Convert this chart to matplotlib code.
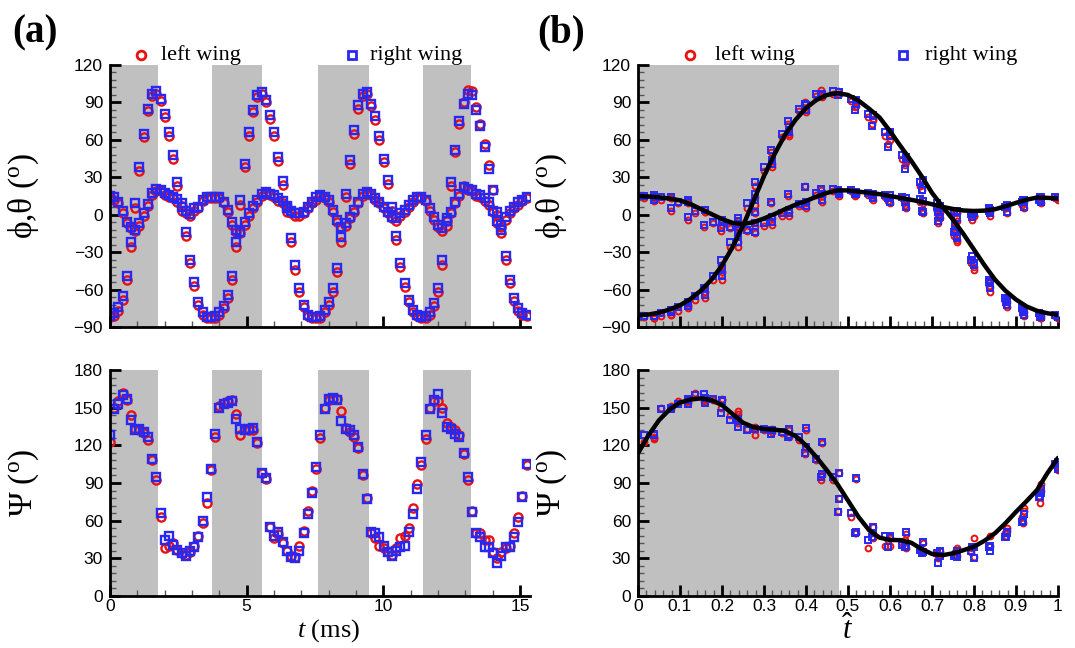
import numpy as np
import matplotlib
matplotlib.use('Agg')
import matplotlib.pyplot as plt
from matplotlib.ticker import MultipleLocator

plt.rcParams['mathtext.fontset'] = 'custom'
plt.rcParams['mathtext.rm'] = 'Liberation Serif'
plt.rcParams['mathtext.it'] = 'Liberation Serif:italic'
plt.rcParams['font.family'] = ['Liberation Sans', 'DejaVu Sans']

# ---------------- data ----------------
t_ms = [0.000, 0.154, 0.308, 0.462, 0.616, 0.770, 0.924, 1.078, 1.232, 1.386,
        1.540, 1.694, 1.848, 2.002, 2.156, 2.310, 2.464, 2.618, 2.772, 2.926,
        3.080, 3.234, 3.388, 3.542, 3.696, 3.850, 4.004, 4.158, 4.312, 4.466,
        4.620, 4.774, 4.928, 5.082, 5.236, 5.390, 5.544, 5.698, 5.852, 6.006,
        6.160, 6.314, 6.468, 6.622, 6.776, 6.930, 7.084, 7.238, 7.392, 7.546,
        7.700, 7.854, 8.008, 8.162, 8.316, 8.470, 8.624, 8.778, 8.932, 9.086,
        9.240, 9.394, 9.548, 9.702, 9.856, 10.010, 10.164, 10.318, 10.472, 10.626,
        10.780, 10.934, 11.088, 11.242, 11.396, 11.550, 11.704, 11.858, 12.012, 12.166,
        12.320, 12.474, 12.628, 12.782, 12.936, 13.090, 13.244, 13.398, 13.552, 13.706,
        13.860, 14.014, 14.168, 14.322, 14.476, 14.630, 14.784, 14.938, 15.092, 15.246]

phi_right = [-81, -79, -74, -65, -49, -22, 9, 38, 65, 85, 97, 99, 93, 81, 66, 48, 26, 6, -14, -36, -54, -70, -78, -82, -82,
             -81, -78, -73, -64, -49, -22, 12, 41, 66, 84, 96, 98, 92, 80, 66, 46, 27, 5, -19, -40, -59, -72, -80, -82, -82,
             -81, -76, -70, -59, -43, -18, 17, 44, 68, 88, 97, 98, 89, 79, 63, 45, 28, 6, -17, -39, -55, -68, -76, -80, -82,
             -81, -78, -71, -59, -36, -5, 26, 52, 75, 89, 97, 96, 84, 71, 54, 37, 20, 2, -12, -33, -52, -67, -75, -79, -80]
phi_left = [-82, -81, -77, -68, -52, -26, 5, 35, 62, 83, 95, 97, 91, 78, 63, 45, 23, 3, -17, -39, -57, -72, -80, -83, -83,
            -83, -80, -75, -67, -52, -26, 8, 38, 63, 82, 94, 97, 90, 77, 63, 43, 24, 2, -22, -44, -62, -74, -81, -83, -83,
            -83, -78, -72, -62, -46, -22, 14, 41, 65, 85, 95, 97, 87, 76, 60, 42, 25, 3, -20, -42, -58, -70, -78, -81, -83,
            -83, -80, -73, -62, -40, -9, 23, 50, 73, 90, 100, 99, 86, 73, 57, 40, 20, 0, -15, -36, -55, -69, -77, -80, -81]

theta_right = [15, 14.5, 10.5, 3, -5.6, -9.6, -12, -7, 1, 8.6, 17.7, 21, 20, 17.7, 16, 14.5, 12.3, 9, 3.3, 0.6, 5, 6.5, 12, 14.5, 14.5,
               14.5, 14.5, 10.5, 4, -6, -12, -14, -6, 1, 7, 12, 17, 18.5, 17, 16, 13, 11, 7, 3, 1, 1, 2.5, 6.5, 10.5, 14,
               16, 14.5, 12, 4, -4, -9.6, -7, -1.6, 3.7, 10.5, 17, 18.5, 17, 13, 10.5, 6.5, 2.5, -1.6, -3, 1, 4, 8, 12, 14.5, 14.5,
               12, 5, -2, -8, -11, -3, 2.5, 10.5, 17, 22, 21, 20, 17, 16, 13, 10, 3, -5, -8, -2, 3, 6.5, 10, 12, 14]
theta_left = [13, 12, 9, 1, -7, -11, -13, -9, -1, 7, 16, 19, 19, 16, 14, 13, 10, 7, 1, -1, 3, 5, 11, 13, 13,
              13, 13, 9, 2, -8, -14, -15, -8, -1, 5, 10, 15, 17, 16, 14, 11, 9, 5, 1, -1, -1, 1, 5, 9, 12,
              15, 13, 10, 2, -6, -11, -9, -3, 2, 9, 15, 17, 16, 12, 9, 5, 1, -3, -5, -1, 2, 6, 10, 13, 13,
              11, 3, -4, -10, -13, -5, 1, 9, 15, 23, 20, 19, 15, 14, 11, 8, 2, -7, -10, -4, 1, 5, 8, 11, 13]

psi_right = [128, 149, 153, 160, 157, 140, 132, 133, 131, 127, 109, 95, 66, 45, 48, 41, 37, 34, 32, 36, 39, 47, 60, 79, 101,
             129, 150, 153, 154, 155, 141, 133, 132, 133, 134, 123, 98, 94, 55, 48, 51, 43, 36, 31, 30, 36, 50, 65, 82, 103,
             128, 149, 157, 158, 156, 139, 133, 132, 128, 119, 97, 77, 51, 50, 47, 40, 35, 32, 36, 39, 40, 51, 65, 85, 107,
             128, 149, 156, 161, 146, 135, 133, 129, 127, 114, 95, 67, 50, 47, 39, 39, 34, 26, 32, 39, 39, 47, 59, 79, 105]
psi_left = [123, 150, 155, 162, 156, 144, 133, 132, 130, 124, 108, 92, 63, 38, 40, 42, 37, 34, 33, 35, 40, 48, 58, 74, 100,
            127, 151, 154, 155, 156, 145, 128, 133, 132, 132, 122, 98, 93, 55, 46, 49, 42, 36, 32, 31, 40, 52, 68, 84, 101,
            126, 150, 156, 157, 157, 147, 134, 131, 127, 118, 96, 78, 50, 46, 40, 38, 35, 33, 38, 46, 48, 54, 70, 89, 104,
            125, 150, 155, 155, 150, 138, 135, 132, 128, 113, 92, 68, 50, 50, 45, 45, 35, 30, 35, 38, 40, 50, 63, 80, 104]

# stroke-cycle boundaries used to fold the time series into one cycle (panel b)
cycle_edges_ms = [-0.05, 3.70, 7.55, 11.40, 15.27]
downstroke_start_ms = [0.0, 3.75, 7.60, 11.44]
downstroke_end_ms = [1.74, 5.58, 9.49, 13.21]
downstroke_end_hat = 0.478

fit_that = [0.000, 0.025, 0.050, 0.075, 0.100, 0.125, 0.150, 0.175, 0.200, 0.225,
            0.250, 0.275, 0.300, 0.325, 0.350, 0.375, 0.400, 0.425, 0.450, 0.475,
            0.500, 0.525, 0.550, 0.575, 0.600, 0.625, 0.650, 0.675, 0.700, 0.725,
            0.750, 0.775, 0.800, 0.825, 0.850, 0.875, 0.900, 0.925, 0.950, 0.975, 1.000]
fit_phi = [-80.6, -80, -78.5, -76, -72.6, -67.5, -60.7, -52, -40.7, -26,
           -8.9, 11, 31, 48.5, 64, 76, 85.5, 92, 96, 97.5,
           96, 91.5, 85, 78, 67, 55, 43.5, 31, 17.5, 6.5,
           -4, -15.5, -28, -40.5, -52, -61, -68, -73.5, -77, -79, -80.3]
fit_theta = [15, 14.6, 14, 13, 11.5, 8.5, 4.5, 0.5, -3.5, -6.5,
             -7.5, -6, -3, 0.5, 4.4, 8, 11, 14.5, 17.5, 19.5,
             19.5, 18.5, 17.5, 16.5, 15, 13.5, 12, 10.3, 8.4, 6.3,
             4.6, 3.4, 3, 3.3, 4.4, 6.8, 9.5, 12, 13.8, 13.5, 13]
fit_psi = [113.6, 128, 140, 148.5, 154, 156.5, 157.4, 156, 152, 145,
           138, 134.5, 133, 132.5, 131.5, 127.5, 120, 110.5, 100, 89,
           76, 63, 52.5, 46.5, 44.6, 44.5, 42.5, 37.5, 33.5, 32.5,
           34, 36.5, 39.3, 44, 50, 58, 67, 75.5, 84.4, 98, 110]

a_xticks = [0, 5, 10, 15]
b_xticks = [0, 0.1, 0.2, 0.3, 0.4, 0.5, 0.6, 0.7, 0.8, 0.9, 1.0]
b_xticklabels = ['0', '0.1', '0.2', '0.3', '0.4', '0.5', '0.6', '0.7', '0.8', '0.9', '1']
top_yticks = [-90, -60, -30, 0, 30, 60, 90, 120]
bot_yticks = [0, 30, 60, 90, 120, 150, 180]

# ---------------- phase folding ----------------
t_arr = np.array(t_ms)
edges = np.array(cycle_edges_ms)
cyc = np.clip(np.searchsorted(edges, t_arr, side='right') - 1, 0, len(edges) - 2)
t_hat = (t_arr - edges[cyc]) / (edges[cyc + 1] - edges[cyc])

# ---------------- figure ----------------
W, H = 1075, 648
fig = plt.figure(figsize=(W / 100, H / 100), dpi=100)


def rect(l, t, r, b):
    return [l / W, 1 - b / H, (r - l) / W, (b - t) / H]


RED = '#e81010'
BLUE = '#2828f0'
GRAY = '#c0c0c0'
SERIF = ['Liberation Serif', 'DejaVu Serif']


def style(ax, xmin_step, ymin_step, labels=True):
    for s in ['top', 'right']:
        ax.spines[s].set_visible(False)
    for s in ['left', 'bottom']:
        ax.spines[s].set_linewidth(2.0)
    ax.xaxis.set_minor_locator(MultipleLocator(xmin_step))
    ax.yaxis.set_minor_locator(MultipleLocator(ymin_step))
    ax.tick_params(which='major', direction='in', length=8, width=2,
                   labelsize=12.5, top=False, right=False)
    ax.tick_params(which='minor', direction='in', length=4, width=1,
                   top=False, right=False, color='#555555')
    ax.tick_params(axis='x', pad=2)
    ax.tick_params(axis='y', pad=5)
    if not labels:
        ax.tick_params(axis='x', labelbottom=False)


axA1 = fig.add_axes(rect(110, 65, 529.5, 327))
axA2 = fig.add_axes(rect(110, 370, 529.5, 596))
axB1 = fig.add_axes(rect(638, 65, 1058, 327))
axB2 = fig.add_axes(rect(638, 370, 1058, 596))

# panel (a)
for ax in (axA1, axA2):
    for s, e in zip(downstroke_start_ms, downstroke_end_ms):
        ax.axvspan(s, e, color=GRAY, lw=0, zorder=0)
    ax.set_xlim(0, 15.35)
    ax.set_xticks(a_xticks)

mk_a = dict(ls='none', mfc='none', markersize=5.9, mew=1.7)
axA1.plot(t_ms, phi_left, marker='o', mec=RED, **mk_a)
axA1.plot(t_ms, theta_left, marker='o', mec=RED, **mk_a)
axA1.plot(t_ms, phi_right, marker='s', mec=BLUE, **mk_a)
axA1.plot(t_ms, theta_right, marker='s', mec=BLUE, **mk_a)
axA2.plot(t_ms, psi_left, marker='o', mec=RED, **mk_a)
axA2.plot(t_ms, psi_right, marker='s', mec=BLUE, **mk_a)

# panel (b)
for ax in (axB1, axB2):
    ax.axvspan(0, downstroke_end_hat, color=GRAY, lw=0, zorder=0)
    ax.set_xlim(0, 1.0)
    ax.set_xticks(b_xticks)
    ax.set_xticklabels(b_xticklabels)

mk_b = dict(ls='none', mfc='none', markersize=4.2, mew=1.4)
axB1.plot(t_hat, phi_left, marker='o', mec=RED, **mk_b)
axB1.plot(t_hat, theta_left, marker='o', mec=RED, **mk_b)
axB1.plot(t_hat, phi_right, marker='s', mec=BLUE, **mk_b)
axB1.plot(t_hat, theta_right, marker='s', mec=BLUE, **mk_b)
axB1.plot(fit_that, fit_phi, color='black', lw=3.2, solid_capstyle='round', zorder=5)
axB1.plot(fit_that, fit_theta, color='black', lw=3.2, solid_capstyle='round', zorder=5)
axB2.plot(t_hat, psi_left, marker='o', mec=RED, **mk_b)
axB2.plot(t_hat, psi_right, marker='s', mec=BLUE, **mk_b)
axB2.plot(fit_that, fit_psi, color='black', lw=3.2, solid_capstyle='round', zorder=5)

for ax in (axA1, axB1):
    ax.set_ylim(-90, 120)
    ax.set_yticks(top_yticks)
for ax in (axA2, axB2):
    ax.set_ylim(0, 180)
    ax.set_yticks(bot_yticks)

style(axA1, 1, 6, labels=False)
style(axA2, 1, 6)
style(axB1, 0.02, 6, labels=False)
style(axB2, 0.02, 6)

# axis labels
for ax in (axA1, axB1):
    ax.set_ylabel('ϕ,θ ($^{\\rm o}$)', family=SERIF, fontsize=24)
    ax.yaxis.set_label_coords(-0.165, 0.5)
for ax in (axA2, axB2):
    ax.set_ylabel('Ψ ($^{\\rm o}$)', family=SERIF, fontsize=24)
    ax.yaxis.set_label_coords(-0.165, 0.5)
axA2.set_xlabel('$t$ (ms)', family=SERIF, fontsize=19)
axA2.xaxis.set_label_coords(0.52, -0.095)
axB2.set_xlabel('$\\hat{t}$', family=SERIF, fontsize=22)
axB2.xaxis.set_label_coords(0.5, -0.085)

# legends
for ax, pos in ((axA1, (0.074, 0.121, 0.577, 0.62)), (axB1, (0.124, 0.183, 0.631, 0.683))):
    ax.plot([pos[0]], [1.038], marker='o', mfc='none', mec=RED, ms=6.3, mew=2.0,
            transform=ax.transAxes, clip_on=False)
    ax.text(pos[1], 1.038, 'left wing', transform=ax.transAxes, family=SERIF,
            fontsize=16, va='center', ha='left')
    ax.plot([pos[2]], [1.038], marker='s', mfc='none', mec=BLUE, ms=6.0, mew=2.0,
            transform=ax.transAxes, clip_on=False)
    ax.text(pos[3], 1.038, 'right wing', transform=ax.transAxes, family=SERIF,
            fontsize=16, va='center', ha='left')

fig.text(12 / W, 1 - 33 / H, '(a)', family=SERIF, fontsize=28, fontweight='bold',
         ha='left', va='center')
fig.text(537 / W, 1 - 33 / H, '(b)', family=SERIF, fontsize=28, fontweight='bold',
         ha='left', va='center')

fig.savefig('out.png', dpi=100)
